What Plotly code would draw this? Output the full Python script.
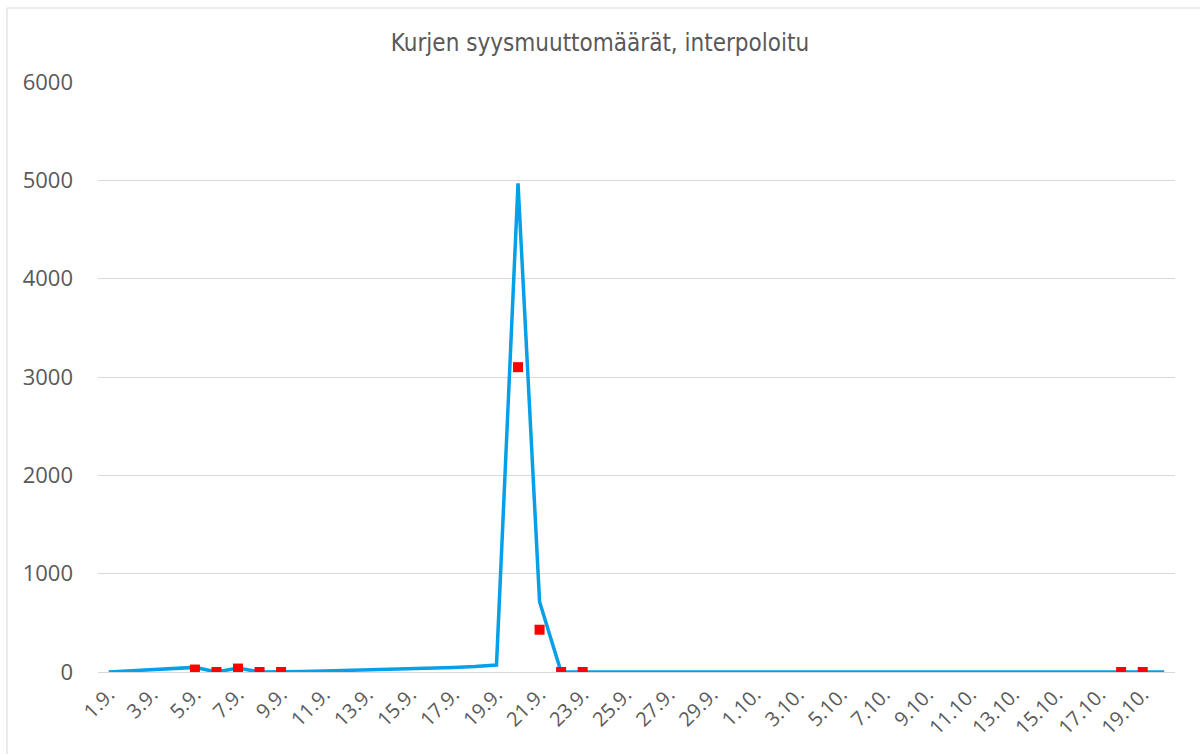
import plotly.graph_objects as go

dates = [f"{d}.9." for d in range(1, 31)] + [f"{d}.10." for d in range(1, 21)]

interpolated = [0, 12, 25, 37, 47, 0, 40, 0, 0, 5,
                10, 15, 22, 28, 35, 40, 47, 55, 70, 4970,
                715, 0, 0, 0, 0, 0, 0, 0, 0, 0,
                0, 0, 0, 0, 0, 0, 0, 0, 0, 0,
                0, 0, 0, 0, 0, 0, 0, 0, 0, 0]

observed = {"5.9.": 25, "6.9.": 0, "7.9.": 35, "8.9.": 0, "9.9.": 0,
            "20.9.": 3100, "21.9.": 430, "22.9.": 0, "23.9.": 0,
            "18.10.": 0, "19.10.": 0}

tick_labels = dates[::2]

obs_x = list(observed.keys())
obs_y = list(observed.values())

fig = go.Figure()
fig.add_trace(go.Scatter(x=dates, y=interpolated, mode="lines",
                         line=dict(color="#06A0E8", width=3.5),
                         showlegend=False, hoverinfo="x+y"))
fig.add_trace(go.Scatter(x=obs_x, y=obs_y, mode="markers",
                         marker=dict(symbol="square", color="#FF0000", size=10),
                         showlegend=False))

font_title = "Liberation Sans Narrow, DejaVu Sans Condensed, sans-serif"
fig.update_layout(
    width=1200, height=754,
    paper_bgcolor="white", plot_bgcolor="white",
    margin=dict(l=98, r=25, t=82, b=82),
    title=dict(text="Kurjen syysmuuttomäärät, interpoloitu",
               x=0.5, xanchor="center", y=0.944, yanchor="middle",
               font=dict(family=font_title, size=24, color="#595959")),
    xaxis=dict(type="category", categoryorder="array", categoryarray=dates,
               tickmode="array", tickvals=tick_labels, ticktext=tick_labels,
               tickangle=-45, showgrid=False, showline=False, ticks="",
               ticklabelstandoff=6,
               tickfont=dict(family="Open Sans, sans-serif", size=20, color="#595959"),
               range=[-0.5, len(dates) - 0.5]),
    yaxis=dict(range=[0, 6000], tickvals=[0, 1000, 2000, 3000, 4000, 5000, 6000],
               showgrid=True, gridcolor="#D9D9D9", gridwidth=1,
               zeroline=True, zerolinecolor="#D9D9D9", zerolinewidth=1,
               showline=False, ticks="", ticklabelstandoff=24,
               tickfont=dict(family="Open Sans, sans-serif", size=22, color="#595959")),
    shapes=[dict(type="rect", xref="paper", yref="paper",
                 x0=-0.0845, x1=1.028, y0=-0.149, y1=1.1254,
                 line=dict(color="#D9D9D9", width=1), fillcolor="rgba(0,0,0,0)",
                 layer="below")],
)

fig.write_html("out.html", config={"displayModeBar": False},
               post_script="document.body.style.margin='0';")
